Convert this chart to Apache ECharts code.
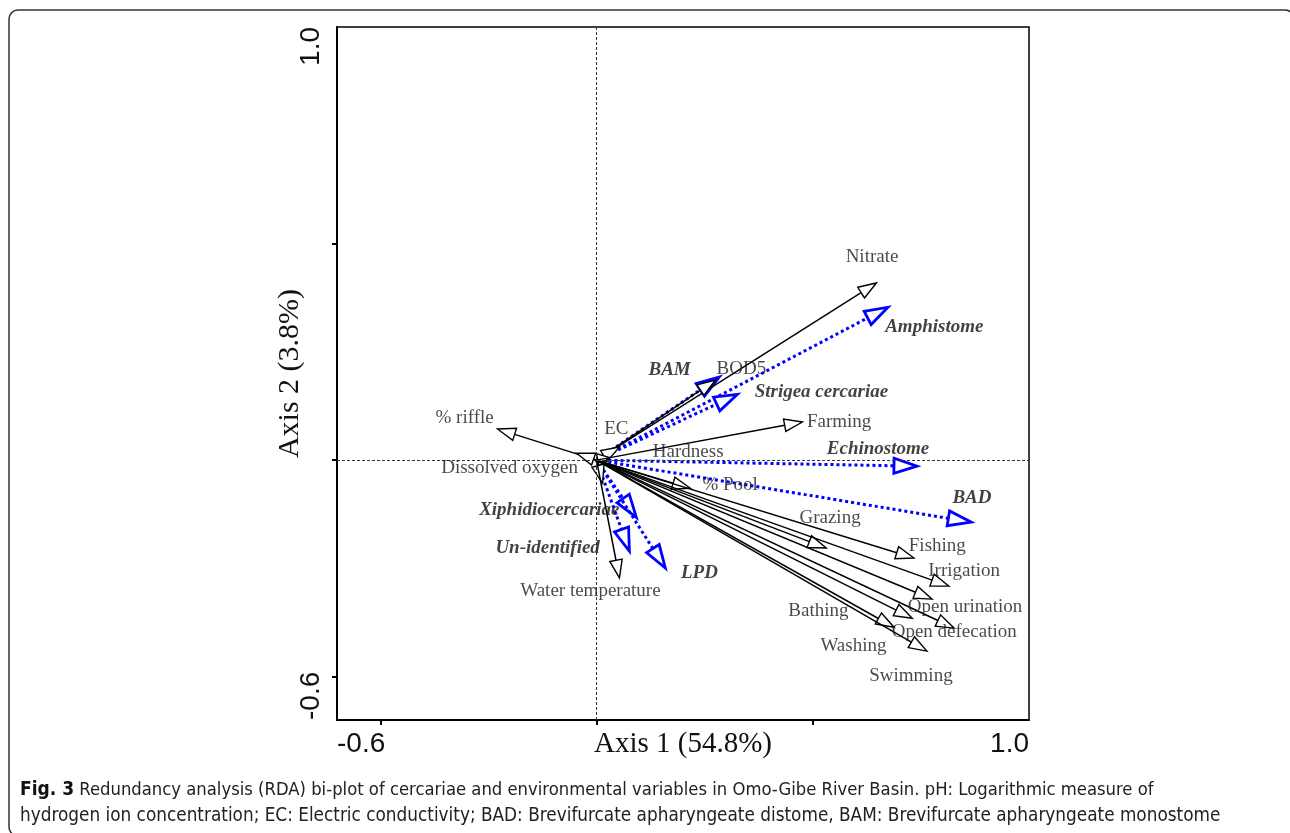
<!DOCTYPE html>
<html>
<head>
<meta charset="utf-8">
<script src="https://cdn.jsdelivr.net/npm/echarts@6/dist/echarts.min.js"></script>
<style>
  html, body { margin: 0; padding: 0; background: #fff; }
  #chart { width: 1290px; height: 833px; }
</style>
</head>
<body>
<div id="chart"></div>
<script>
// environmental variables (black arrows)
const envNames = ["Nitrate", "BOD5", "EC", "Hardness", "% riffle", "Dissolved oxygen", "pH", "Water temperature",
  "Farming", "% Pool", "Grazing", "Fishing", "Irrigation", "Open urination", "Bathing", "Open defecation", "Washing", "Swimming"];
const envX = [0.647, 0.275, 0.053, 0.030, -0.229, -0.046, 0.014, 0.053,
  0.476, 0.217, 0.531, 0.734, 0.815, 0.776, 0.730, 0.827, 0.688, 0.764];
const envY = [0.409, 0.185, 0.030, 0.006, 0.072, 0.016, -0.053, -0.272,
  0.088, -0.065, -0.203, -0.226, -0.291, -0.321, -0.365, -0.388, -0.386, -0.441];
// where the labels sit (axis units)
const envLabelX = [0.637, 0.335, 0.046, 0.212, -0.305, -0.201, null, -0.014,
  0.561, 0.309, 0.540, 0.788, 0.850, 0.852, 0.513, 0.827, 0.594, 0.727];
const envLabelY = [0.469, 0.210, 0.072, 0.018, 0.097, -0.018, null, -0.303,
  0.088, -0.058, -0.134, -0.199, -0.256, -0.339, -0.349, -0.397, -0.430, -0.499];

// cercariae (blue dotted arrows)
const spNames = ["Amphistome", "BAM", "Strigea cercariae", "Echinostome", "BAD", "Xiphidiocercariae", "Un-identified", "LPD"];
const spX = [0.674, 0.284, 0.326, 0.741, 0.866, 0.092, 0.076, 0.159];
const spY = [0.353, 0.192, 0.152, -0.014, -0.143, -0.132, -0.210, -0.249];
const spLabelX = [0.781, 0.169, 0.520, 0.651, 0.868, -0.109, -0.113, 0.238];
const spLabelY = [0.307, 0.208, 0.157, 0.025, -0.088, -0.115, -0.203, -0.261];

const xTicks = [-0.5, 0, 0.5];
const yTicks = [-0.5, 0, 0.5];
const axisEnds = [-0.6, 1.0];

const chart = echarts.init(document.getElementById('chart'));

function arrow(color, width, dash, headLen, headHalf, headWidth) {
  return function (params, api) {
    const o = api.coord([0, 0]);
    const p = api.coord([api.value(0), api.value(1)]);
    const dx = p[0] - o[0], dy = p[1] - o[1];
    const len = Math.sqrt(dx * dx + dy * dy) || 1;
    const ux = dx / len, uy = dy / len;
    const hl = Math.min(headLen, len * 0.9);
    const bx = p[0] - ux * hl, by = p[1] - uy * hl;
    const nx = -uy, ny = ux;
    return {
      type: 'group',
      children: [
        { type: 'line', shape: { x1: o[0], y1: o[1], x2: bx, y2: by },
          style: { stroke: color, lineWidth: width, lineDash: dash } },
        { type: 'polygon',
          shape: { points: [[p[0], p[1]], [bx + nx * headHalf, by + ny * headHalf], [bx - nx * headHalf, by - ny * headHalf]] },
          style: { fill: '#fff', stroke: color, lineWidth: headWidth } }
      ]
    };
  };
}

const envLabels = [];
envNames.forEach(function (n, i) {
  if (envLabelX[i] != null) envLabels.push({ name: n, value: [envLabelX[i], envLabelY[i]] });
});
const spLabels = spNames.map(function (n, i) { return { name: n, value: [spLabelX[i], spLabelY[i]] }; });

const serif = '"Liberation Serif", "Times New Roman", serif';
const sans = '"Liberation Sans", Arial, sans-serif';
const capFont = '"Liberation Sans Narrow", "DejaVu Sans Condensed", sans-serif';

chart.setOption({
  animation: false,
  grid: { left: 337, right: 261, top: 27, bottom: 113, show: true, borderColor: '#000', borderWidth: 1.5 },
  xAxis: {
    type: 'value', min: -0.6, max: 1.0,
    name: 'Axis 1 (54.8%)', nameLocation: 'middle', nameGap: 10, nameMoveOverlap: false,
    nameTextStyle: { fontFamily: serif, fontSize: 29, color: '#111', verticalAlign: 'top' },
    axisLine: { onZero: false, lineStyle: { color: '#000', width: 2 } },
    axisTick: { show: true, inside: false, length: 5, customValues: xTicks, lineStyle: { color: '#000', width: 2 } },
    axisLabel: { customValues: axisEnds, alignMinLabel: 'left', alignMaxLabel: 'right', margin: 10,
      fontFamily: sans, fontSize: 28, color: '#111', formatter: function (v) { return v.toFixed(1); } },
    splitLine: { show: false }
  },
  yAxis: {
    type: 'value', min: -0.6, max: 1.0,
    name: 'Axis 2 (3.8%)', nameLocation: 'middle', nameGap: 32, nameRotate: 90, nameMoveOverlap: false,
    nameTextStyle: { fontFamily: serif, fontSize: 30, color: '#111' },
    axisLine: { onZero: false, lineStyle: { color: '#000', width: 2 } },
    axisTick: { show: true, inside: false, length: 5, customValues: yTicks, lineStyle: { color: '#000', width: 2 } },
    axisLabel: { customValues: axisEnds, rotate: 90, alignMinLabel: 'left', alignMaxLabel: 'right', margin: 12,
      fontFamily: sans, fontSize: 28, color: '#111', formatter: function (v) { return v.toFixed(1); } },
    splitLine: { show: false }
  },
  graphic: [
    { type: 'rect', z: -10, shape: { x: 9, y: 10, width: 1285, height: 826, r: 9 },
      style: { fill: 'none', stroke: '#333', lineWidth: 1.5 } },
    { type: 'text', left: 20, top: 781,
      style: { text: '{b|Fig. 3} Redundancy analysis (RDA) bi-plot of cercariae and environmental variables in Omo-Gibe River Basin. pH: Logarithmic measure of',
        font: '18.3px ' + capFont, fill: '#222',
        rich: { b: { fontWeight: 'bold', fontSize: 19, fontFamily: capFont, fill: '#111' } } } },
    { type: 'text', left: 20, top: 807,
      style: { text: 'hydrogen ion concentration; EC: Electric conductivity; BAD: Brevifurcate apharyngeate distome, BAM: Brevifurcate apharyngeate monostome',
        font: '18.8px ' + capFont, fill: '#222' } }
  ],
  series: [
    {
      type: 'scatter', symbolSize: 0, data: [], silent: true,
      markLine: {
        silent: true, symbol: 'none', label: { show: false },
        lineStyle: { color: '#333', width: 1, type: [3, 2] },
        data: [{ xAxis: 0 }, { yAxis: 0 }]
      }
    },
    {
      type: 'custom', name: 'cercariae', z: 3,
      data: spX.map(function (x, i) { return [x, spY[i]]; }),
      renderItem: arrow('#0000ff', 3, [3, 3], 23, 7.5, 2.8)
    },
    {
      type: 'custom', name: 'environment', z: 4,
      data: envX.map(function (x, i) { return [x, envY[i]]; }),
      renderItem: arrow('#000', 1.5, null, 18, 6.3, 1.4)
    },
    {
      type: 'scatter', symbolSize: 0, z: 5, data: envLabels,
      label: { show: true, position: 'inside', formatter: '{b}', fontFamily: serif, fontSize: 19, color: '#1a1a1a' }
    },
    {
      type: 'scatter', symbolSize: 0, z: 5, data: spLabels,
      label: { show: true, position: 'inside', formatter: '{b}', fontFamily: serif, fontSize: 19,
        fontWeight: 'bold', fontStyle: 'italic', color: '#111' }
    }
  ]
});
</script>
</body>
</html>
